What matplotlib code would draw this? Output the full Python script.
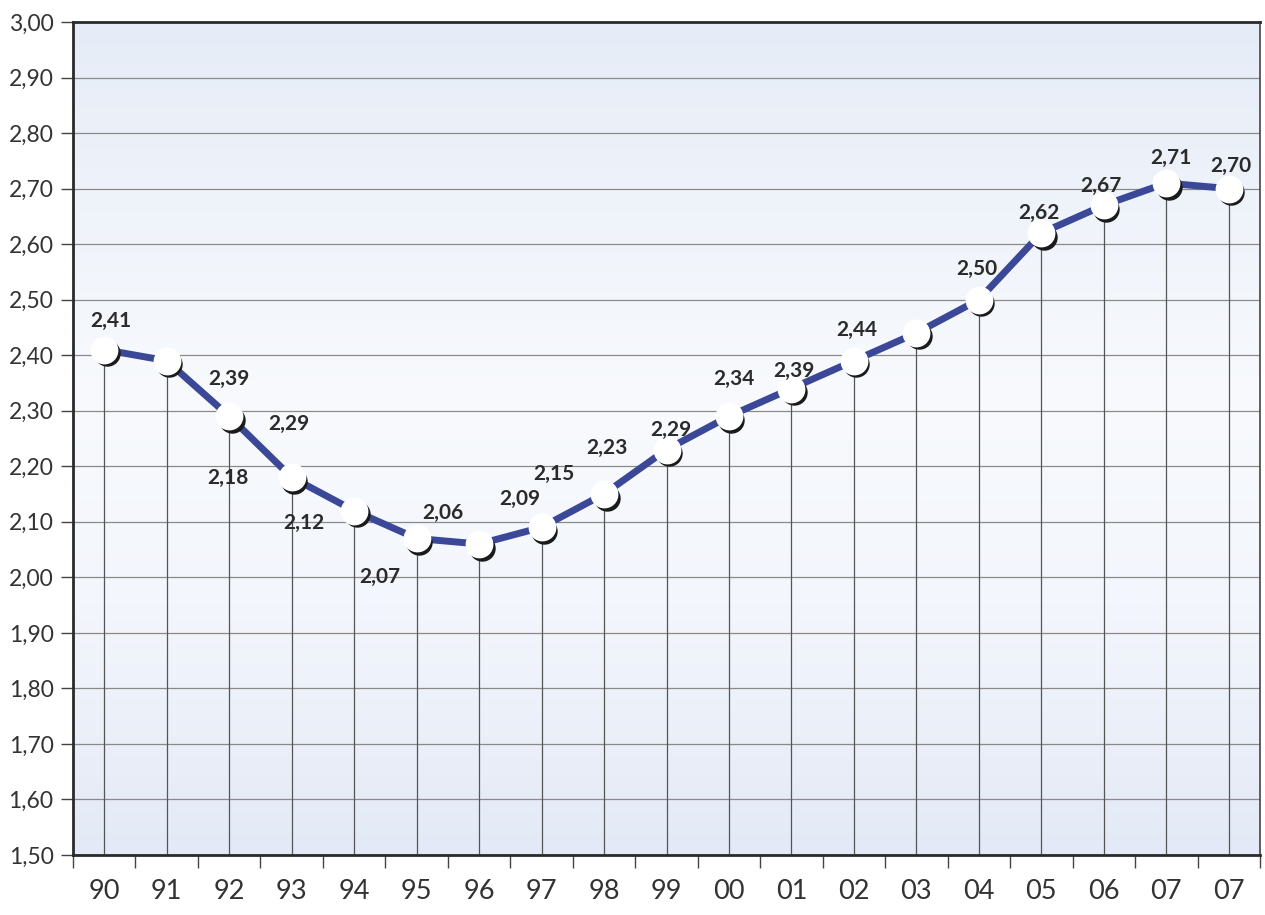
import matplotlib
matplotlib.use("Agg")
import matplotlib.pyplot as plt
import numpy as np
from matplotlib.colors import LinearSegmentedColormap
from matplotlib.transforms import offset_copy

years = ["90", "91", "92", "93", "94", "95", "96", "97", "98", "99",
         "00", "01", "02", "03", "04", "05", "06", "07", "07"]
values = [2.41, 2.39, 2.29, 2.18, 2.12, 2.07, 2.06, 2.09, 2.15, 2.23,
          2.29, 2.34, 2.39, 2.44, 2.50, 2.62, 2.67, 2.71, 2.70]

# label offsets in pixels (dx, dy), as placed in the original
label_offsets = [(7, 29), (62, -18), (60, -8), (-64, -1), (-50, -12), (-37, -39),
                 (-36, 31), (-22, 28), (-50, 20), (-60, 2), (-58, -14), (-58, 10),
                 (-60, -10), (-60, 3), (-2, 31), (-2, 20), (-3, 19), (5, 25), (2, 23)]

plt.rcParams['font.family'] = ['Lato', 'DejaVu Sans']

fig = plt.figure(figsize=(12.65, 9.15), dpi=100)
ax = fig.add_axes([73 / 1265, 60 / 915, (1260 - 73) / 1265, (855 - 22) / 915])

n = len(years)
x = np.arange(n)
ymin, ymax = 1.50, 3.00
ax.set_xlim(-0.5, n - 0.5)
ax.set_ylim(ymin, ymax)

# background gradient
cmap = LinearSegmentedColormap.from_list(
    "bg", [(0.0, "#e6ecf7"), (0.45, "#f8fafd"), (0.7, "#f3f6fc"), (1.0, "#e3e9f6")])
grad = np.linspace(0, 1, 256).reshape(-1, 1)
ax.imshow(grad, extent=[-0.5, n - 0.5, ymin, ymax], aspect="auto", cmap=cmap,
          origin="upper", zorder=0)

# horizontal gridlines
yticks = np.round(np.arange(1.5, 3.001, 0.1), 2)
for yv in yticks[1:-1]:
    ax.axhline(yv, color="#8a8a8a", lw=0.9, zorder=1)

# drop lines
ax.vlines(x, ymin, values, color="#555555", lw=0.9, zorder=1)

# line
ax.plot(x, values, color="#3a4897", lw=5, zorder=2, solid_capstyle="butt")

# marker shadows then markers
shadow = offset_copy(ax.transData, fig=fig, x=2.5, y=-3.5, units="dots")
ax.plot(x, values, ls="none", marker="o", ms=18, color="#1a1a1a",
        transform=shadow, zorder=3)
ax.plot(x, values, ls="none", marker="o", ms=18, markerfacecolor="white",
        markeredgecolor="white", markeredgewidth=2, zorder=4)

for xi, v, (dx, dy) in zip(x, values, label_offsets):
    ax.annotate(f"{v:.2f}".replace(".", ","), (xi, v),
                xytext=(dx * 0.72, dy * 0.72), textcoords="offset points",
                ha="center", va="center", fontsize=15, fontweight="bold",
                color="#2b2b2b", zorder=5)

# axes styling
for side in ["left", "bottom", "top"]:
    ax.spines[side].set_linewidth(2)
    ax.spines[side].set_color("#2a2a2a")
ax.spines["right"].set_linewidth(1.2)
ax.spines["right"].set_color("#444444")

ax.set_yticks(yticks)
ax.set_yticklabels([f"{t:.2f}".replace(".", ",") for t in yticks],
                   fontsize=16.5, color="#333333")
ax.tick_params(axis="y", direction="out", length=9, width=1, color="#444444", pad=5)

ax.set_xticks(np.arange(-0.5, n, 1.0))
ax.set_xticklabels([])
ax.tick_params(axis="x", which="major", direction="out", length=9, width=1,
               color="#444444")
ax.set_xticks(x, minor=True)
ax.set_xticklabels(years, minor=True, fontsize=19.5, color="#333333")
ax.tick_params(axis="x", which="minor", length=0, pad=17)

fig.savefig("out.png", dpi=100, facecolor="white")
